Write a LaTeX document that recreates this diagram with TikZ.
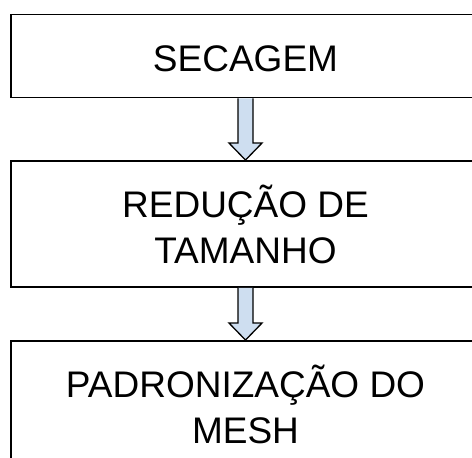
\documentclass[tikz,border=0pt]{standalone}
\usepackage{fontspec}
\setmainfont{Liberation Sans}
\usetikzlibrary{calc}
\definecolor{arrowfill}{RGB}{206,222,240}
\tikzset{
  box/.style={draw=black, line width=1.9pt, fill=white, minimum width=469pt, align=center,
    font=\fontsize{37}{46}\selectfont, inner sep=0pt},
  flowarrow/.style={draw=black, line width=1.3pt, fill=arrowfill, line join=miter}
}
\begin{document}
\begin{tikzpicture}[x=1pt,y=1pt]
\useasboundingbox (0,0) rectangle (472,-458);
\clip (0,0) rectangle (472,-458);
\node[box, minimum height=83pt, text height=30pt, text depth=0pt] (b1) at (245.5,-56) {SECAGEM};
\node[box, minimum height=126pt] (b2) at (245.5,-224) {REDUÇÃO DE\\TAMANHO};
\node[box, minimum height=126pt] (b3) at (245.5,-404) {PADRONIZAÇÃO DO\\MESH};
\draw[flowarrow] ($(b1.south)+(-7.5,0)$) -- ($(b2.north)+(-7.5,17)$) -- ($(b2.north)+(-16.5,17)$)
  -- (b2.north) -- ($(b2.north)+(16.5,17)$) -- ($(b2.north)+(7.5,17)$) -- ($(b1.south)+(7.5,0)$);
\draw[flowarrow] ($(b2.south)+(-7.5,0)$) -- ($(b3.north)+(-7.5,17)$) -- ($(b3.north)+(-16.5,17)$)
  -- (b3.north) -- ($(b3.north)+(16.5,17)$) -- ($(b3.north)+(7.5,17)$) -- ($(b2.south)+(7.5,0)$);
\end{tikzpicture}
\end{document}
